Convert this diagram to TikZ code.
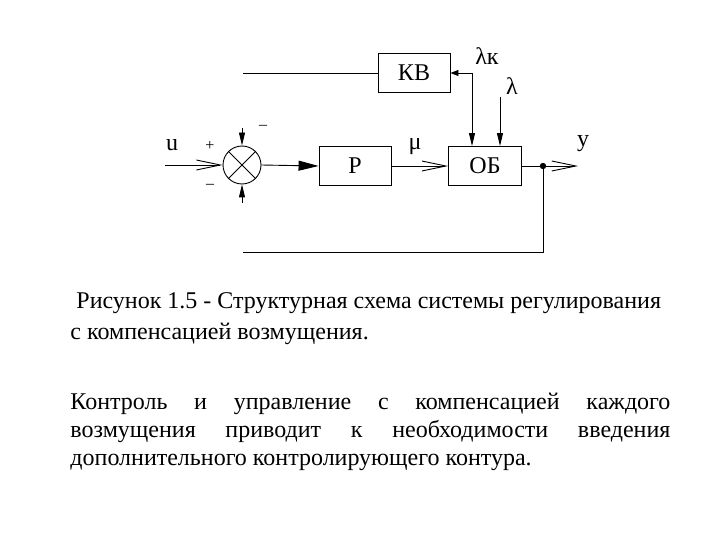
\documentclass[tikz,border=0pt]{standalone}
\usepackage{fontspec}
\setmainfont{Liberation Serif}
\usetikzlibrary{arrows.meta}
\tikzset{
  blk/.style={draw, minimum width=72pt, minimum height=39pt, inner sep=0pt, font=\fontsize{24}{26}\selectfont},
  lbl/.style={inner sep=0pt, font=\fontsize{24}{26}\selectfont},
  sgn/.style={inner sep=0pt, font=\fontsize{16}{18}\selectfont},
  big tip/.style={-{Triangle[length=20pt,width=10pt]}},
  fill tip/.style={-{Triangle[length=13pt,width=6pt]}},
  small tip/.style={-{Triangle[length=8pt,width=6pt]}},
  open tip/.style={-{Straight Barb[length=24pt,width=10pt,line width=0.9pt]}},
  txt/.style={inner sep=0pt, anchor=base west, font=\fontsize{24}{28}\selectfont},
}
\begin{document}
\begin{tikzpicture}[x=1pt,y=-1pt,line width=0.9pt]
\useasboundingbox (0,0) rectangle (720,540);
% blocks
\node[blk] (kv) at (414,73) {КВ};
\node[blk] (p) at (355,166) {Р};
\node[blk, minimum width=73pt] (ob) at (485,166) {ОБ};
\node[draw, circle, minimum size=38pt, inner sep=0pt] (sum) at (242,165) {};
\draw (sum.45) -- (sum.225);
\draw (sum.135) -- (sum.315);
% free ends
\coordinate (uin) at (165,165);
\coordinate (kvend) at (243,73);
\coordinate (topin) at (242,128);
\coordinate (botin) at (242,203);
\coordinate (lk) at (472,73);
\coordinate (lin) at (500,97);
\coordinate (dot) at (543,166);
\coordinate (yout) at (578,166);
\coordinate (fbend) at (243,252);
% connectors
\draw[open tip] (uin) -- (sum.west);
\draw[fill tip] (topin) -- (sum.north);
\draw[fill tip] (botin) -- (sum.south);
\draw[big tip] (sum.east) -- (p.west);
\draw[open tip] (p.east) -- (ob.west);
\draw (kv.west) -- (kvend);
\draw[small tip] (lk) -- (kv.east);
\draw[fill tip] (lk) -- (lk |- ob.north);
\draw[fill tip] (lin) -- (lin |- ob.north);
\draw[open tip] (ob.east) -- (yout);
\fill (dot) circle (3.2pt);
\draw (dot) |- (fbend);
% labels
\node[lbl] (lu) at (172,145) {u};
\node[sgn] (lplus) at (210,146) {+};
\node[sgn] (lminb) at (210,186) {--};
\node[sgn] (lmint) at (263,127) {--};
\node[lbl] (lmu) at (415,147) {μ};
\node[lbl] (ly) at (583,144) {y};
\node[lbl] (llk) at (487,56) {λк};
\node[lbl] (ll) at (512,86) {λ};
% caption and text
\node[txt] (cap1) at (76,308) {Рисунок 1.5 - Структурная схема системы регулирования};
\node[txt] (cap2) at (70,339) {с компенсацией возмущения.};
\node[txt, text width=600pt, align=justify, anchor=north west] (par) at (70,393)
  {\hyphenpenalty=10000 Контроль и управление с компенсацией каждого\linebreak
   возмущения приводит к необходимости введения\linebreak
   дополнительного контролирующего контура.};
\end{tikzpicture}
\end{document}
